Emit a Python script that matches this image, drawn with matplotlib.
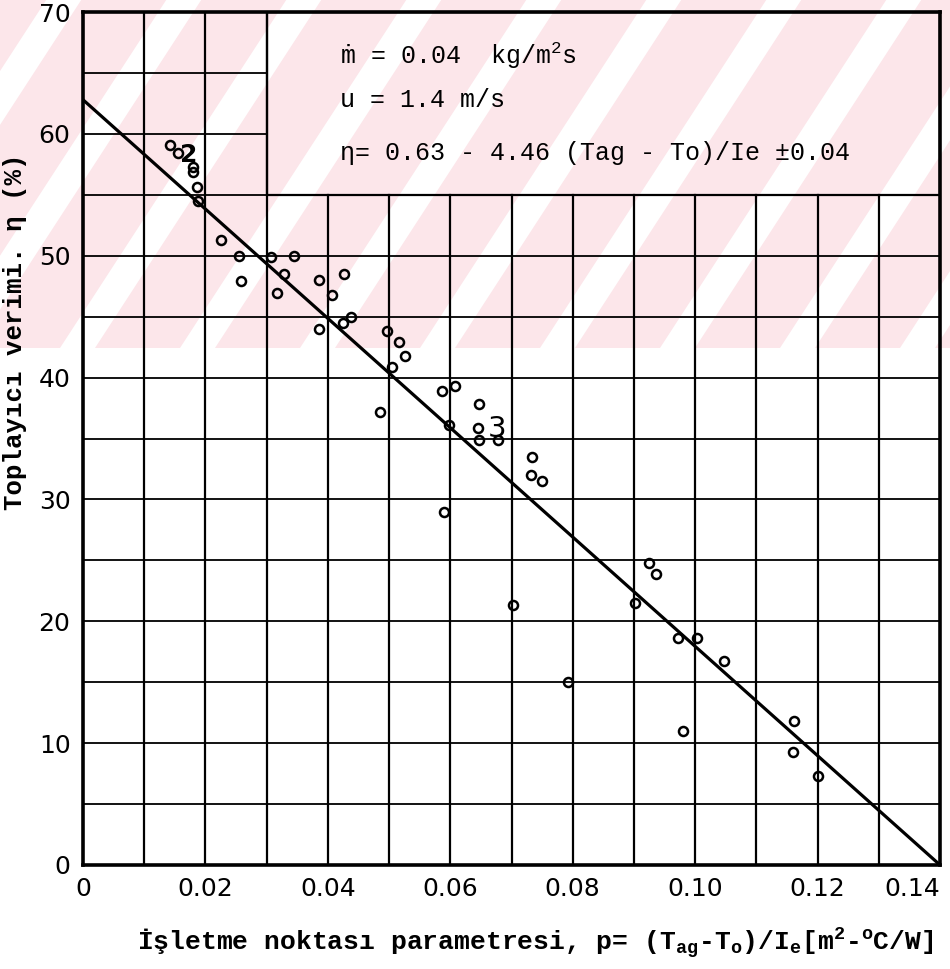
import matplotlib.pyplot as plt
from matplotlib.patches import Rectangle, Polygon

# measured points (p, eta %)
p = [0.0142, 0.0155, 0.0180, 0.0180, 0.0186, 0.0188, 0.0225, 0.0255, 0.0258,
     0.0307, 0.0317, 0.0328, 0.0345, 0.0386, 0.0407, 0.0427, 0.0425, 0.0438,
     0.0386, 0.0497, 0.0516, 0.0526, 0.0505, 0.0485, 0.0587, 0.0608, 0.0647,
     0.0598, 0.0645, 0.0647, 0.0678, 0.0734, 0.0732, 0.0750, 0.0590, 0.0703,
     0.0792, 0.0925, 0.0936, 0.0902, 0.0972, 0.1003, 0.1047, 0.0980, 0.1162,
     0.1160, 0.1200]
eta = [59.1, 58.4, 57.3, 56.9, 55.6, 54.5, 51.3, 50.0, 47.9,
       49.9, 46.9, 48.5, 50.0, 48.0, 46.8, 48.5, 44.5, 45.0,
       44.0, 43.8, 42.9, 41.8, 40.9, 37.2, 38.9, 39.3, 37.8,
       36.1, 35.9, 34.9, 34.9, 33.5, 32.0, 31.5, 29.0, 21.3,
       15.0, 24.8, 23.9, 21.5, 18.6, 18.6, 16.7, 11.0, 11.8,
       9.3, 7.3]

# fitted line end points
fit_p = [0.0, 0.14]
fit_eta = [62.8, 0.0]

xticks = [0, 0.02, 0.04, 0.06, 0.08, 0.10, 0.12, 0.14]
xticklabels = ['0', '0.02', '0.04', '0.06', '0.08', '0.10', '0.12', '0.14']
yticks = [0, 10, 20, 30, 40, 50, 60, 70]

W, H = 950, 969
fig = plt.figure(figsize=(W / 100, H / 100), dpi=100)
fig.patch.set_facecolor('white')

# light pink striped watermark over the top of the scan
band_bottom = 348
fig.patches.append(Rectangle((0, 1 - band_bottom / H), 1, band_bottom / H,
                             transform=fig.transFigure, facecolor='#fce6ea',
                             edgecolor='none', zorder=-10))
for x0 in range(-300, 1100, 120):
    pts = [(x0, band_bottom), (x0 + 35, band_bottom),
           (x0 + 35 + 0.65 * band_bottom, 0), (x0 + 0.65 * band_bottom, 0)]
    pts = [(px / W, 1 - py / H) for px, py in pts]
    fig.patches.append(Polygon(pts, closed=True, transform=fig.transFigure,
                               facecolor='white', edgecolor='none', zorder=-9))

ax = fig.add_axes([83 / W, 1 - 865 / H, (940 - 83) / W, (865 - 12) / H])
ax.set_facecolor('none')
ax.set_xlim(0, 0.14)
ax.set_ylim(0, 70)

# grid, kept out of the note box at upper right
box_x, box_y = 0.03, 55
for i in range(1, 14):
    gx = i * 0.01
    top = 70 if gx <= box_x + 1e-9 else box_y
    ax.plot([gx, gx], [0, top], color='black', lw=1.6, zorder=1)
for j in range(1, 14):
    gy = j * 5
    right = box_x if gy > box_y else 0.14
    ax.plot([0, right], [gy, gy], color='black', lw=1.3, zorder=1)
ax.add_patch(Rectangle((box_x, box_y), 0.14 - box_x, 70 - box_y,
                       facecolor='none', edgecolor='black', lw=1.6, zorder=2))

ax.plot(fit_p, fit_eta, color='black', lw=2.3, zorder=3)
ax.plot(p, eta, 'o', markersize=6.5, markerfacecolor='none',
        markeredgecolor='black', markeredgewidth=1.8, zorder=4)

ax.text(0.0172, 58.3, '2', fontsize=18, fontweight='bold', ha='center', va='center')
ax.text(0.0676, 35.8, '3', fontsize=21, ha='center', va='center')

mono = ['Liberation Mono', 'DejaVu Sans Mono']
ax.text(0.042, 66.4, '\u1e41 = 0.04  kg/m$\\mathregular{^2}$s', family=mono,
        fontsize=18, va='center')
ax.text(0.042, 62.75, 'u = 1.4 m/s', family=mono, fontsize=18, va='center')
ax.text(0.042, 58.4, '\u03b7= 0.63 - 4.46 (Tag - To)/Ie \u00b10.04', family=mono,
        fontsize=18, va='center')

for s in ax.spines.values():
    s.set_linewidth(2.6)

ax.set_xticks(xticks)
ax.set_xticklabels(xticklabels)
ax.set_yticks(yticks)
ax.tick_params(length=0, labelsize=18, pad=9)
ax.get_xticklabels()[-1].set_ha('right')

ax.set_xlabel('\u0130\u015fletme noktas\u0131 parametresi, p= (T$\\mathregular{_{ag}}$-T$\\mathregular{_o}$)/I$\\mathregular{_e}$[m$\\mathregular{^2}$-$\\mathregular{^o}$C/W]',
              family=mono, fontweight='bold', fontsize=19)
ax.xaxis.set_label_coords(0.528, -0.072)
ax.set_ylabel('Toplay\u0131c\u0131 verimi. \u03b7 (%)', family=mono,
              fontweight='bold', fontsize=18.5)
ax.yaxis.set_label_coords(-0.065, 0.625)

fig.savefig('out.png', dpi=100)
